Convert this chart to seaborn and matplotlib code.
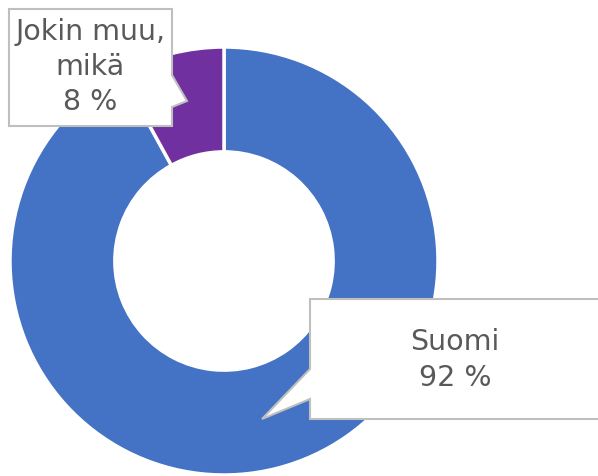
import matplotlib
matplotlib.use('Agg')
import matplotlib.pyplot as plt
import seaborn as sns
from matplotlib.patches import Polygon

# data
labels = ['Suomi', 'Jokin muu,\nmikä']
values = [92, 8]
colors = ['#4472C4', '#7030A0']

W, H = 598, 476

sns.set_style('white')
plt.rcParams['font.family'] = ['DejaVu Sans']

fig = plt.figure(figsize=(W / 100, H / 100), dpi=100)
ax = fig.add_axes([0, 0, 1, 1])
ax.axis('off')


def flip(pts):
    # pixel coords from top-left -> axes coords
    return [(x, H - y) for x, y in pts]


ax.pie(values, colors=colors, startangle=90, counterclock=False,
       center=(224, H - 261), radius=214,
       wedgeprops=dict(width=214 * 0.49, edgecolor='white', linewidth=2.5))
ax.set_xlim(0, W)
ax.set_ylim(0, H)
ax.set_aspect('auto')

box_style = dict(facecolor='white', edgecolor='#BFBFBF', linewidth=1.5, zorder=5)

# callout for the small slice
ax.add_patch(Polygon(flip([(9, 9), (172, 9), (172, 75), (187, 101), (172, 107),
                           (172, 126), (9, 126)]), closed=True, **box_style))
# callout for the big slice
ax.add_patch(Polygon(flip([(310, 299), (610, 299), (610, 419), (310, 419),
                           (310, 399), (262, 419), (310, 369)]), closed=True, **box_style))

txt = dict(color='#595959', fontsize=20.5, ha='center', va='center', zorder=6,
           linespacing=1.32)
ax.text(90, H - 67, f'{labels[1]}\n{values[1]} %', **txt)
ax.text(455, H - 360, f'{labels[0]}\n{values[0]} %', **txt)

fig.savefig('out.png', dpi=100)
